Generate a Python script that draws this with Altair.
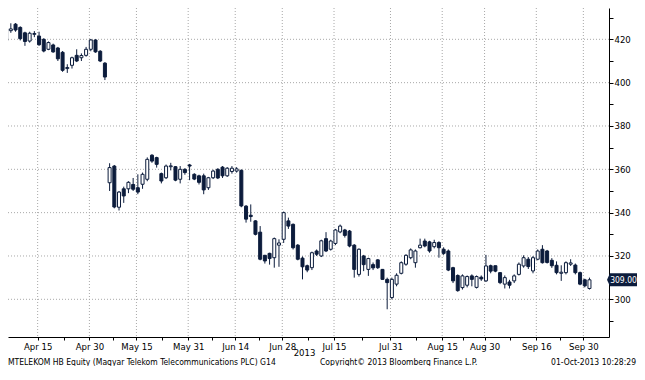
import altair as alt
import pandas as pd
import json

# ---------------- data ----------------
start_date = "2013-04-04"
end_date = "2013-10-01"
holidays = ["2013-05-01", "2013-05-20", "2013-08-19", "2013-08-20"]

opens = [419.2, 424.0, 427.0, 425.5, 423.0, 419.2, 422.3, 421.5, 420.0, 415.4,
         417.4, 416.0, 414.0, 406.5, 408.0, 412.6, 411.5, 412.6, 415.4, 419.7,
         414.5, 409.0, 353.8, 361.5, 342.5, 351.0, 351.0, 353.0, 351.5, 353.1,
         355.4, 366.5, 365.4, 358.0, 356.1, 361.2, 361.2, 355.4, 360.0, 362.0,
         357.7, 357.0, 357.0, 351.5, 356.1, 360.0, 361.0, 357.0, 359.0, 359.2,
         359.5, 343.0, 338.8, 336.2, 331.0, 320.3, 321.2, 319.2, 325.0, 327.7,
         336.2, 334.6, 325.0, 319.0, 315.5, 314.6, 322.3, 320.0, 328.0, 323.1,
         325.8, 331.1, 332.0, 331.5, 325.0, 311.5, 320.0, 313.8, 316.0, 318.2,
         313.8, 309.2, 300.8, 307.0, 312.0, 316.2, 319.2, 316.9, 323.8, 326.9,
         326.5, 324.3, 326.2, 323.1, 322.3, 314.6, 311.0, 305.4, 306.5, 310.8,
         305.5, 310.2, 308.5, 315.5, 315.5, 312.3, 307.0, 308.0, 308.5, 311.5,
         315.4, 318.5, 313.1, 318.5, 323.1, 322.3, 318.0, 315.7, 312.0, 312.3,
         316.2, 315.8, 312.3, 309.0, 305.0]
highs = [426.0, 427.4, 427.5, 426.0, 423.5, 423.5, 423.8, 423.5, 420.5, 419.0,
         418.0, 416.5, 414.6, 408.5, 412.0, 415.4, 413.5, 416.5, 420.2, 420.0,
         415.0, 409.5, 362.8, 362.0, 350.0, 352.0, 354.5, 356.0, 357.7, 358.5,
         365.5, 367.0, 365.8, 358.5, 362.2, 363.0, 361.5, 361.5, 360.5, 362.5,
         358.2, 357.5, 358.0, 356.5, 359.8, 360.5, 361.5, 361.0, 361.5, 361.0,
         360.0, 343.5, 343.8, 336.5, 333.8, 320.5, 321.5, 328.5, 327.7, 340.5,
         337.7, 335.0, 325.5, 319.8, 316.0, 322.0, 323.0, 327.5, 331.0, 327.5,
         332.5, 334.5, 332.5, 332.0, 325.5, 323.5, 320.5, 319.2, 317.0, 318.5,
         314.0, 310.0, 310.0, 312.0, 317.5, 320.8, 323.5, 323.0, 328.0, 328.0,
         327.0, 327.5, 326.8, 324.0, 323.0, 315.0, 311.5, 311.5, 311.0, 311.5,
         311.0, 311.0, 320.5, 316.0, 315.5, 312.5, 311.0, 309.0, 311.5, 317.0,
         320.3, 319.5, 320.0, 323.0, 325.0, 322.8, 319.0, 317.5, 315.7, 317.5,
         318.5, 316.5, 312.8, 309.5, 310.0]
lows = [418.0, 423.0, 423.5, 419.5, 417.0, 418.5, 421.0, 417.0, 414.0, 415.0,
        413.8, 410.0, 405.0, 404.5, 406.5, 409.5, 410.0, 412.0, 414.5, 413.8,
        409.5, 401.2, 350.0, 342.0, 341.0, 344.5, 349.0, 350.0, 348.5, 351.0,
        354.5, 363.0, 360.8, 353.5, 355.5, 359.5, 354.5, 353.5, 357.5, 355.0,
        355.0, 353.0, 348.5, 350.5, 355.5, 355.5, 356.0, 356.5, 358.0, 358.5,
        342.5, 335.4, 335.8, 329.5, 318.0, 316.5, 316.0, 314.6, 315.0, 326.0,
        332.5, 323.0, 318.0, 309.2, 312.5, 313.5, 320.0, 319.5, 321.8, 322.5,
        325.0, 330.5, 328.5, 324.0, 310.0, 310.5, 313.0, 310.8, 313.5, 314.0,
        309.0, 295.4, 300.0, 306.0, 311.5, 315.5, 318.5, 314.6, 323.5, 324.0,
        321.5, 323.5, 319.2, 320.5, 313.0, 307.5, 303.5, 304.5, 305.5, 306.0,
        305.0, 308.5, 308.0, 312.0, 312.5, 307.0, 305.0, 305.0, 307.5, 311.0,
        314.6, 314.0, 312.0, 318.0, 316.5, 316.5, 314.5, 311.5, 308.5, 311.5,
        315.4, 311.5, 306.5, 305.5, 304.5]
closes = [424.9, 424.8, 424.3, 420.3, 419.0, 422.8, 422.7, 417.5, 414.6, 418.5,
          414.2, 411.0, 405.7, 407.0, 411.5, 410.0, 412.5, 415.4, 419.7, 414.2,
          410.0, 402.6, 360.8, 342.6, 349.5, 347.7, 354.0, 350.8, 349.5, 357.7,
          364.6, 363.8, 362.3, 354.6, 361.5, 361.6, 355.0, 360.0, 358.5, 361.5,
          355.5, 354.0, 350.5, 356.1, 359.2, 356.0, 357.0, 360.5, 360.5, 360.2,
          343.1, 337.0, 338.2, 330.0, 318.5, 317.7, 318.8, 328.0, 326.0, 340.0,
          333.8, 323.8, 318.5, 315.0, 313.5, 321.5, 320.8, 327.0, 322.3, 326.9,
          332.0, 333.8, 329.5, 324.6, 313.8, 323.1, 316.0, 318.8, 314.5, 314.6,
          309.2, 307.7, 309.2, 311.1, 316.9, 320.3, 322.8, 322.3, 325.0, 324.6,
          322.3, 326.2, 323.8, 321.2, 313.5, 308.5, 304.0, 310.8, 310.5, 309.2,
          310.5, 309.4, 315.4, 313.0, 313.0, 307.7, 310.0, 306.5, 310.8, 316.2,
          319.2, 315.1, 319.2, 322.3, 316.9, 317.0, 315.5, 312.3, 312.5, 316.9,
          316.8, 312.3, 307.0, 306.2, 309.0]

tick_dates = ["2013-04-15", "2013-04-30", "2013-05-15", "2013-05-31", "2013-06-14",
              "2013-06-28", "2013-07-15", "2013-07-31", "2013-08-15", "2013-08-30",
              "2013-09-16", "2013-09-30"]
tick_labels = ["Apr 15", "Apr 30", "May 15", "May 31", "Jun 14", "Jun 28",
               "Jul 15", "Jul 31", "Aug 15", "Aug 30", "Sep 16", "Sep 30"]
year_label = "2013"
y_major = [300, 320, 340, 360, 380, 400, 420]
y_minor = [290, 310, 330, 350, 370, 390, 410, 430]
footer_left = "MTELEKOM HB Equity (Magyar Telekom Telecommunications PLC) G14"
footer_mid = "Copyright\u00a9 2013 Bloomberg Finance L.P."
footer_right = "01-Oct-2013 10:28:29"

# ---------------- styling ----------------
NAVY = "#0c1c3c"
GRID = "#a8a8a8"
FONT = "Liberation Sans Narrow, DejaVu Sans Condensed, Liberation Sans, sans-serif"
W, H = 601, 329

# ---------------- frames ----------------
dates = [d.strftime("%Y-%m-%d") for d in pd.bdate_range(start_date, end_date)
         if d.strftime("%Y-%m-%d") not in holidays]
df = pd.DataFrame({"i": list(range(len(dates))), "date": dates,
                   "open": opens, "high": highs, "low": lows, "close": closes})
df["up"] = df["close"] >= df["open"]

major_pos = [round(dates.index(d) - 0.3, 2) for d in tick_dates]
minor_pos = [round((a + b) / 2, 2) for a, b in zip(major_pos[:-1], major_pos[1:])]
ticks_df = pd.DataFrame({"pos": major_pos, "label": tick_labels})
hgrid_df = pd.DataFrame({"v": y_major})
last_df = df.tail(1)

label_expr = ("indexof(%s, datum.value) >= 0 ? %s[indexof(%s, datum.value)] : ''"
              % (json.dumps(major_pos), json.dumps(tick_labels), json.dumps(major_pos)))

xscale = alt.Scale(domain=[1.461, 127.09], nice=False, zero=False)
yscale = alt.Scale(domain=[282.6, 434.46], nice=False, zero=False)

xaxis = alt.Axis(values=major_pos + minor_pos, labelExpr=label_expr, grid=False,
                 domainColor="black", tickColor="black", tickSize=3,
                 labelFont=FONT, labelFontSize=9.5, labelColor="black",
                 labelPadding=1, labelOverlap=False, labelFlush=False,
                 title=year_label, titleFont=FONT, titleFontSize=9.5,
                 titleFontWeight="normal", titleColor="black",
                 titleX=296, titleY=15.5, titleBaseline="middle", titleAlign="center")
yaxis = alt.Axis(orient="right", values=y_minor + y_major,
                 labelExpr="datum.value % 20 == 0 ? datum.value : ''",
                 grid=False, domainColor="black", tickColor="black", tickSize=4,
                 labelFont=FONT, labelFontSize=9.5, labelColor="black",
                 labelPadding=1, labelOverlap=False, labelFlush=False, title=None)


def X(field):
    return alt.X(field, type="quantitative", scale=xscale, axis=xaxis)


def Y(field):
    return alt.Y(field, type="quantitative", scale=yscale, axis=yaxis)


base = alt.Chart(df)

hgrid = alt.Chart(hgrid_df).mark_rule(color=GRID, strokeDash=[1, 2], strokeWidth=1).encode(
    y=Y("v"))
vgrid = alt.Chart(ticks_df).mark_rule(color=GRID, strokeDash=[1, 2], strokeWidth=1).encode(
    x=X("pos"))

wicks = base.mark_rule(color=NAVY, strokeWidth=1, clip=True).encode(
    x=X("i"), y=Y("low"), y2="high")
bodies = base.mark_bar(size=3, stroke=NAVY, strokeWidth=1, clip=True).encode(
    x=X("i"), y=Y("open"), y2="close",
    fill=alt.condition("datum.up", alt.value("white"), alt.value(NAVY)))

tag = alt.Chart(last_df).mark_point(
    shape="M-1,0L-0.8,-0.433L1,-0.433L1,0.433L-0.8,0.433Z",
    size=900, filled=True, color=NAVY, opacity=1).encode(
    x=alt.value(614), y=Y("close"))
tag_text = alt.Chart(last_df).mark_text(
    color="white", font=FONT, fontSize=8.5, align="center", baseline="middle").encode(
    x=alt.value(615.5), y=Y("close"), text=alt.Text("close:Q", format=".2f"))

f1 = alt.Chart(pd.DataFrame({"t": [footer_left]})).mark_text(
    font=FONT, fontSize=8.5, color="black", align="left", baseline="middle").encode(
    x=alt.value(0), y=alt.value(354), text="t:N")
f2 = alt.Chart(pd.DataFrame({"t": [footer_mid]})).mark_text(
    font=FONT, fontSize=8.5, color="black", align="left", baseline="middle").encode(
    x=alt.value(312), y=alt.value(354), text="t:N")
f3 = alt.Chart(pd.DataFrame({"t": [footer_right]})).mark_text(
    font=FONT, fontSize=8.5, color="black", align="right", baseline="middle").encode(
    x=alt.value(628), y=alt.value(354), text="t:N")

chart = alt.layer(hgrid, vgrid, wicks, bodies, tag, tag_text, f1, f2, f3).properties(
    width=W, height=H,
    padding={"left": 0, "top": 0, "right": 28, "bottom": 29},
    autosize=alt.AutoSizeParams(type="none"),
    background="white",
).configure_view(stroke=None)

chart.save("out.html", embed_options={"renderer": "svg", "actions": False})
